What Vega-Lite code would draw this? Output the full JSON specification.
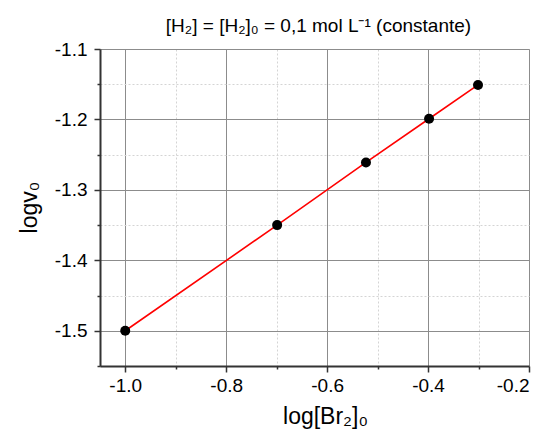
{
  "$schema": "https://vega.github.io/schema/vega-lite/v6.json",
  "width": 429,
  "height": 317,
  "autosize": "none",
  "padding": {"left": 100, "top": 49, "right": 19, "bottom": 66},
  "background": "white",
  "config": {
    "font": "Liberation Sans",
    "view": {"stroke": "#c8c8c8", "strokeWidth": 1},
    "axis": {"labelFont": "Liberation Sans", "titleFont": "Liberation Sans", "labelColor": "#000", "titleColor": "#000", "titleFontWeight": "normal", "labelFontSize": 19, "titleFontSize": 23}
  },
  "title": {"text": "[H₂] = [H₂]₀ = 0,1 mol L⁻¹ (constante)", "fontSize": 19, "fontWeight": "normal", "font": "Liberation Sans", "color": "#000", "baseline": "alphabetic", "offset": -11, "dx": 4},
  "data": {"values": [
    {"logBr2": -1.0, "logv0": -1.5},
    {"logBr2": -0.699, "logv0": -1.35},
    {"logBr2": -0.523, "logv0": -1.261},
    {"logBr2": -0.398, "logv0": -1.199},
    {"logBr2": -0.301, "logv0": -1.151}
  ]},
  "resolve": {"axis": {"x": "independent", "y": "independent"}},
  "layer": [
    {
      "mark": {"type": "line", "color": "#ff0000", "strokeWidth": 1.6},
      "encoding": {
        "x": {"field": "logBr2", "type": "quantitative", "scale": {"domain": [-1.05, -0.2], "nice": false, "zero": false},
          "axis": {"orient": "bottom", "values": [-1.0, -0.8, -0.6, -0.4, -0.2], "labelExpr": "replace(format(datum.value, '.1f'), '−', '-')", "grid": true, "gridColor": "#8c8c8c", "gridWidth": 1, "domainColor": "#333", "domainWidth": 2, "tickColor": "#333", "tickWidth": 1.5, "tickSize": 6, "labelPadding": 4, "title": "log[Br₂]₀", "titleX": 225, "titleY": 57, "titleAnchor": null, "titleBaseline": "alphabetic", "titleAlign": "center"}},
        "y": {"field": "logv0", "type": "quantitative", "scale": {"domain": [-1.55, -1.1], "nice": false, "zero": false},
          "axis": {"orient": "left", "values": [-1.5, -1.4, -1.3, -1.2, -1.1], "labelExpr": "replace(format(datum.value, '.1f'), '−', '-')", "grid": true, "gridColor": "#8c8c8c", "gridWidth": 1, "domainColor": "#333", "domainWidth": 2, "tickColor": "#333", "tickWidth": 1.5, "tickSize": 6, "labelPadding": 7, "title": "logv₀", "titleAngle": -90, "titleX": -64, "titleY": 158, "titleBaseline": "alphabetic", "titleAlign": "center"}}
      }
    },
    {
      "mark": {"type": "circle", "color": "#000", "opacity": 1, "size": 100},
      "encoding": {
        "x": {"field": "logBr2", "type": "quantitative",
          "axis": {"orient": "bottom", "values": [-0.9, -0.7, -0.5, -0.3], "labels": false, "title": null, "grid": true, "gridColor": "#d4d4d4", "gridDash": [2, 2], "gridWidth": 1, "domain": false, "tickColor": "#333", "tickWidth": 1.5, "tickSize": 3}},
        "y": {"field": "logv0", "type": "quantitative",
          "axis": {"orient": "left", "values": [-1.55, -1.45, -1.35, -1.25, -1.15], "labels": false, "title": null, "grid": true, "gridColor": "#d4d4d4", "gridDash": [2, 2], "gridWidth": 1, "domain": false, "tickColor": "#333", "tickWidth": 1.5, "tickSize": 3}}
      }
    }
  ]
}
